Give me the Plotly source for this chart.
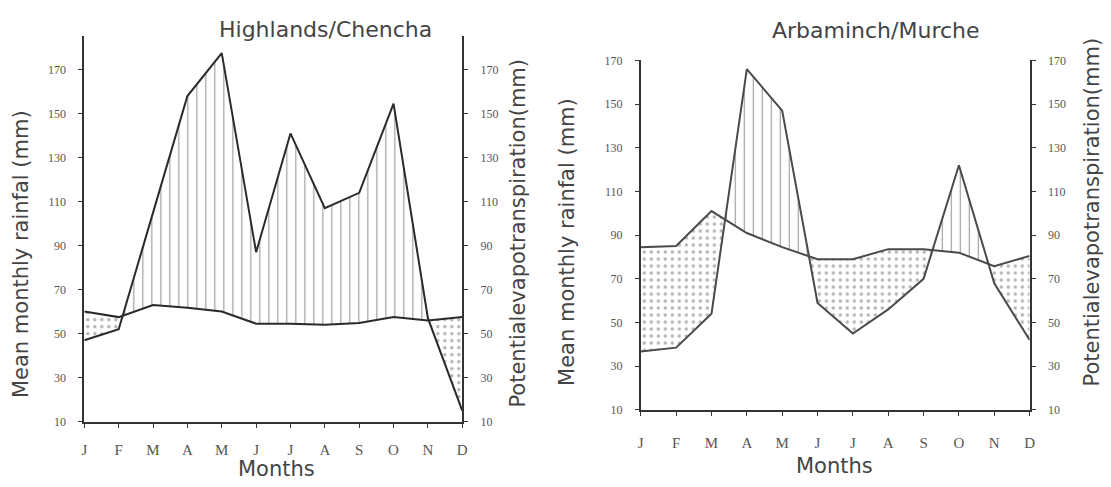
import plotly.graph_objects as go

months = ["J", "F", "M", "A", "M", "J", "J", "A", "S", "O", "N", "D"]
y_ticks = [10, 30, 50, 70, 90, 110, 130, 150, 170]

# Highlands / Chencha
chencha_rain = [47, 52, 105, 158, 177.5, 87, 141, 107, 114, 154.5, 57, 15]
chencha_pet = [60, 57.5, 63, 61.8, 60, 54.5, 54.5, 54, 54.8, 57.5, 56, 57.5]

# Arbaminch / Murche
murche_rain = [36.8, 38.5, 54, 166, 147, 59, 45, 56, 70, 122, 68, 42]
murche_pet = [84.5, 85, 101, 91, 84.5, 79, 79, 83.6, 83.6, 82, 75.8, 80.5]

W, H = 1111, 487


def px(x):
    return x / W


def py(y):
    return (H - y) / H


def augment(rain, pet):
    xs, r, p = [], [], []
    n = len(rain)
    for i in range(n):
        xs.append(float(i)); r.append(rain[i]); p.append(pet[i])
        if i < n - 1:
            d0 = rain[i] - pet[i]
            d1 = rain[i + 1] - pet[i + 1]
            if d0 * d1 < 0:
                t = d0 / (d0 - d1)
                xc = i + t
                yc = pet[i] + t * (pet[i + 1] - pet[i])
                xs.append(xc); r.append(yc); p.append(yc)
    return xs, r, p


fig = go.Figure()


def add_panel(rain, pet, xa, ya, linecol):
    xs, r, p = augment(rain, pet)
    upper = [max(a, b) for a, b in zip(r, p)]
    lower = [min(a, b) for a, b in zip(r, p)]
    # surplus (rain above PET) - vertical hatch
    fig.add_trace(go.Scatter(x=xs, y=p, mode="lines", line=dict(width=0),
                             xaxis=xa, yaxis=ya, showlegend=False, hoverinfo="skip"))
    fig.add_trace(go.Scatter(x=xs, y=upper, mode="lines", line=dict(width=0),
                             fill="tonexty", fillcolor="rgba(0,0,0,0)",
                             fillpattern=dict(shape="|", size=9, solidity=0.13,
                                              fgcolor="#3c3c3c", bgcolor="white"),
                             xaxis=xa, yaxis=ya, showlegend=False, hoverinfo="skip"))
    # deficit (rain below PET) - dotted
    fig.add_trace(go.Scatter(x=xs, y=p, mode="lines", line=dict(width=0),
                             xaxis=xa, yaxis=ya, showlegend=False, hoverinfo="skip"))
    fig.add_trace(go.Scatter(x=xs, y=lower, mode="lines", line=dict(width=0),
                             fill="tonexty", fillcolor="rgba(0,0,0,0)",
                             fillpattern=dict(shape=".", size=7, solidity=0.18,
                                              fgcolor="#666666", bgcolor="white"),
                             xaxis=xa, yaxis=ya, showlegend=False, hoverinfo="skip"))
    # lines
    fig.add_trace(go.Scatter(x=list(range(12)), y=pet, mode="lines", name="PET",
                             line=dict(color=linecol, width=2),
                             xaxis=xa, yaxis=ya, showlegend=False))
    fig.add_trace(go.Scatter(x=list(range(12)), y=rain, mode="lines", name="Rainfall",
                             line=dict(color=linecol, width=2),
                             xaxis=xa, yaxis=ya, showlegend=False))


add_panel(chencha_rain, chencha_pet, "x", "y", "#2a2a2a")
add_panel(murche_rain, murche_pet, "x2", "y2", "#4a4a4a")

tickfont = dict(family="Liberation Serif", size=12, color="#555555")
monthfont = dict(family="Liberation Serif", size=15, color="#555555")
axcol = "#333333"

xcommon = dict(range=[0, 11], tickmode="array", tickvals=list(range(12)), ticktext=months,
               showline=True, linecolor=axcol, linewidth=1.8, ticks="outside", ticklen=4,
               tickcolor=axcol, showgrid=False, zeroline=False, tickfont=monthfont)
ycommon = dict(tickmode="array", tickvals=y_ticks, showline=True, linecolor=axcol,
               linewidth=1.8, ticks="outside", ticklen=4, tickcolor=axcol,
               showgrid=False, zeroline=False, tickfont=tickfont, ticklabelstandoff=10)

d1x = [px(82), px(463)]
d1y = [py(427), py(31)]
d2x = [px(643), px(1035)]
d2y = [py(415), py(55)]
r1 = [10, 185.2]
r2 = [10, 170.4]

fig.update_layout(
    width=W, height=H, margin=dict(l=0, r=0, t=0, b=0),
    paper_bgcolor="white", plot_bgcolor="rgba(0,0,0,0)",
    xaxis=dict(domain=d1x, anchor="y", ticklabelstandoff=9, **xcommon),
    yaxis=dict(domain=d1y, anchor="x", range=r1, side="left", **ycommon),
    yaxis3=dict(overlaying="y", anchor="x", side="right", range=r1, **ycommon),
    xaxis2=dict(domain=d2x, anchor="y2", ticklabelstandoff=14, **xcommon),
    yaxis2=dict(domain=d2y, anchor="x2", range=r2, side="left", **ycommon),
    yaxis4=dict(overlaying="y2", anchor="x2", side="right", range=r2, **ycommon),
)
# invisible traces so the right-hand axes render
fig.add_trace(go.Scatter(x=[0], y=[10], xaxis="x", yaxis="y3", mode="markers",
                         marker=dict(opacity=0), showlegend=False, hoverinfo="skip"))
fig.add_trace(go.Scatter(x=[0], y=[10], xaxis="x2", yaxis="y4", mode="markers",
                         marker=dict(opacity=0), showlegend=False, hoverinfo="skip"))

tfont = dict(family="DejaVu Sans", size=22, color="#444444")
afont = dict(family="DejaVu Sans", size=21, color="#444444")
mfont = dict(family="DejaVu Sans", size=21, color="#444444")
ann = [
    dict(text="Highlands/Chencha", x=px(325), y=py(24), font=tfont, textangle=0),
    dict(text="Arbaminch/Murche", x=px(880), y=py(25), font=tfont, textangle=0),
    dict(text="Months", x=px(276), y=py(476), font=mfont, textangle=0),
    dict(text="Months", x=px(838), y=py(473), font=mfont, textangle=0),
    dict(text="Mean monthly rainfal (mm)", x=px(18), y=py(255), font=afont, textangle=-90),
    dict(text="Potentialevapotranspiration(mm)", x=px(519), y=py(233), font=afont, textangle=-90),
    dict(text="Mean monthly rainfal (mm)", x=px(568), y=py(242), font=afont, textangle=-90),
    dict(text="Potentialevapotranspiration(mm)", x=px(1098), y=py(212), font=afont, textangle=-90),
]
for a in ann:
    fig.add_annotation(xref="paper", yref="paper", xanchor="center", yanchor="middle",
                       showarrow=False, **a)

fig.write_html("out.html", config={"displayModeBar": False},
               post_script="document.body.style.margin='0';")
